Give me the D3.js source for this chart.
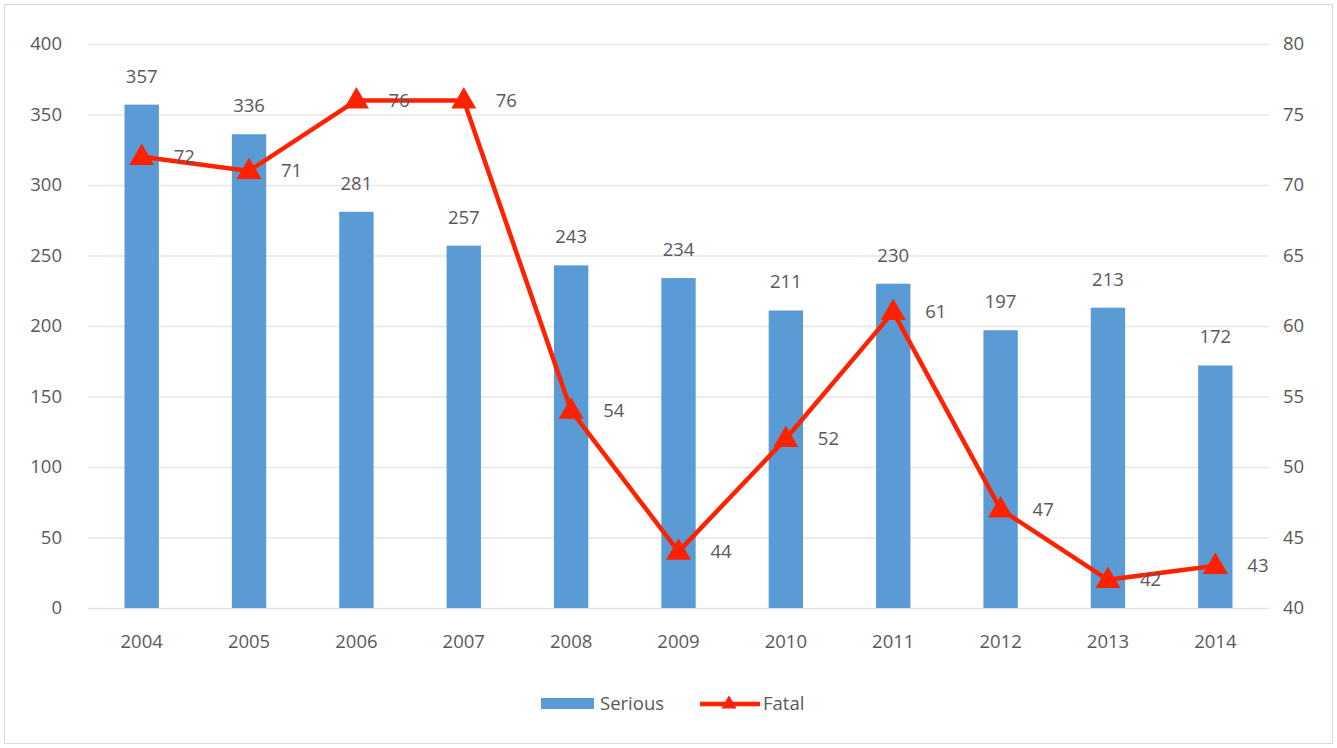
<!DOCTYPE html>
<html>
<head>
<meta charset="utf-8">
<script src="https://cdn.jsdelivr.net/npm/d3@7"></script>
<style>
  html, body { margin: 0; padding: 0; background: #fff; }
  svg { display: block; }
  text { font-family: "Open Sans", "Liberation Sans", sans-serif; fill: #595959; }
</style>
</head>
<body>
<svg id="chart" width="1337" height="748"></svg>
<script>
const years = ["2004","2005","2006","2007","2008","2009","2010","2011","2012","2013","2014"];
const serious = [357, 336, 281, 257, 243, 234, 211, 230, 197, 213, 172];
const fatal = [72, 71, 76, 76, 54, 44, 52, 61, 47, 42, 43];
const leftTicks = [0, 50, 100, 150, 200, 250, 300, 350, 400];
const rightTicks = [40, 45, 50, 55, 60, 65, 70, 75, 80];
const seriesNames = ["Serious", "Fatal"];

const svg = d3.select("#chart");
const W = 1337, H = 748;
const FONT = "\"Open Sans\", \"Liberation Sans\", sans-serif";
const FS = 18.5;

// outer frame
svg.append("rect")
  .attr("x", 4.5).attr("y", 4.5)
  .attr("width", W - 9).attr("height", H - 9)
  .attr("fill", "#fff").attr("stroke", "#d9d9d9").attr("stroke-width", 1);

const plot = { left: 88, right: 1269, top: 44, bottom: 608 };

const x = d3.scaleBand().domain(years).range([plot.left, plot.right]).paddingInner(0.68).paddingOuter(0.34);
const yL = d3.scaleLinear().domain([0, 400]).range([plot.bottom, plot.top]);
const yR = d3.scaleLinear().domain([40, 80]).range([plot.bottom, plot.top]);

// gridlines
svg.append("g").selectAll("line").data(leftTicks).join("line")
  .attr("x1", plot.left).attr("x2", plot.right)
  .attr("y1", d => yL(d) + 0.5).attr("y2", d => yL(d) + 0.5)
  .attr("stroke", "#e6e6e6").attr("stroke-width", 1.3);

function styleAxis(g) {
  g.select(".domain").remove();
  g.selectAll("text").attr("font-size", FS).style("fill", "#595959").attr("font-family", FONT);
}

// left axis
svg.append("g").attr("transform", `translate(${plot.left - 26},0)`)
  .call(d3.axisLeft(yL).tickValues(leftTicks).tickSize(0).tickPadding(0))
  .call(styleAxis);

// right axis
svg.append("g").attr("transform", `translate(${plot.right + 14},0)`)
  .call(d3.axisRight(yR).tickValues(rightTicks).tickSize(0).tickPadding(0))
  .call(styleAxis);

// bottom axis
svg.append("g").attr("transform", `translate(0,${plot.bottom + 27})`)
  .call(d3.axisBottom(x).tickSize(0).tickPadding(0))
  .call(styleAxis);

// bars
svg.append("g").selectAll("rect").data(serious).join("rect")
  .attr("x", (d, i) => x(years[i]))
  .attr("width", x.bandwidth())
  .attr("y", d => yL(d))
  .attr("height", d => yL(0) - yL(d))
  .attr("fill", "#5b9bd5");

// bar labels
svg.append("g").selectAll("text").data(serious).join("text")
  .attr("x", (d, i) => x(years[i]) + x.bandwidth() / 2)
  .attr("y", d => yL(d) - 22)
  .attr("text-anchor", "middle")
  .attr("font-size", FS)
  .text(d => d);

const cx = i => x(years[i]) + x.bandwidth() / 2;

// fatal line
const line = d3.line().x((d, i) => cx(i)).y(d => yR(d));
svg.append("path").datum(fatal)
  .attr("d", line)
  .attr("fill", "none").attr("stroke", "#ff2200").attr("stroke-width", 4.5)
  .attr("stroke-linejoin", "round");

// triangle markers
const tri = d3.symbol().type(d3.symbolTriangle).size(270);
svg.append("g").selectAll("path").data(fatal).join("path")
  .attr("d", tri)
  .attr("transform", (d, i) => `translate(${cx(i)},${yR(d) + 1})`)
  .attr("fill", "#ff2200");

// fatal labels
svg.append("g").selectAll("text").data(fatal).join("text")
  .attr("x", (d, i) => cx(i) + 32)
  .attr("y", d => yR(d))
  .attr("dy", "0.35em")
  .attr("font-size", FS)
  .text(d => d);

// legend
const lg = svg.append("g");
lg.append("rect").attr("x", 541).attr("y", 698).attr("width", 53).attr("height", 11).attr("fill", "#5b9bd5");
lg.append("text").attr("x", 600).attr("y", 704).attr("dy", "0.35em").attr("font-size", FS).text(seriesNames[0]);
lg.append("line").attr("x1", 700).attr("x2", 760).attr("y1", 704).attr("y2", 704)
  .attr("stroke", "#ff2200").attr("stroke-width", 4.5);
lg.append("path").attr("d", d3.symbol().type(d3.symbolTriangle).size(100))
  .attr("transform", "translate(729,704)").attr("fill", "#ff2200");
lg.append("text").attr("x", 763).attr("y", 704).attr("dy", "0.35em").attr("font-size", FS).text(seriesNames[1]);
</script>
</body>
</html>
